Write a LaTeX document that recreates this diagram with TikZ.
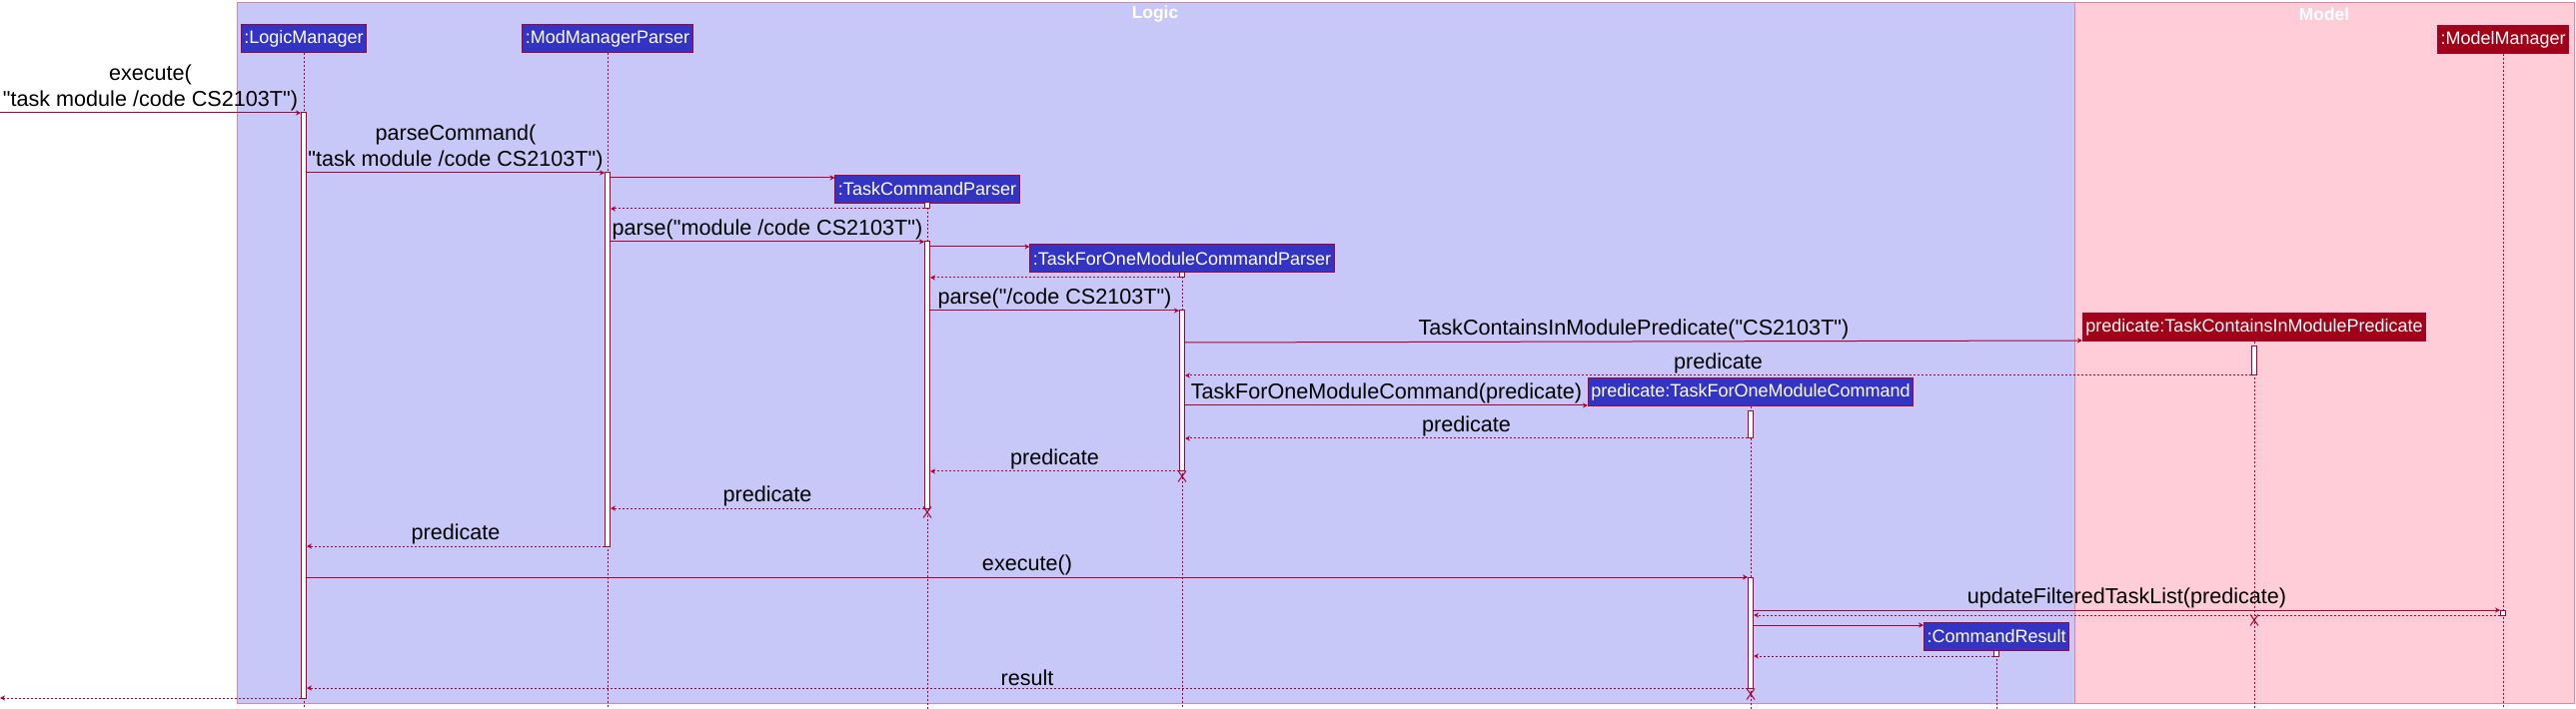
\documentclass[tikz,border=0pt]{standalone}
\usepackage{fontspec}
\setmainfont{Liberation Sans}
\usetikzlibrary{arrows.meta,shapes.misc}

\definecolor{umlred}{RGB}{168,0,54}
\definecolor{logicbg}{RGB}{200,200,248}
\definecolor{modelbg}{RGB}{255,205,216}
\definecolor{logicobj}{RGB}{51,51,196}
\definecolor{modelobj}{RGB}{160,0,24}
\definecolor{frameline}{RGB}{222,130,170}
\newcommand{\dq}{\textquotedbl}

\begin{document}
\begin{tikzpicture}[x=0.5pt,y=-0.5pt,
 obj/.style={draw=umlred,fill=logicobj,text=white,font=\fontsize{9}{10}\selectfont,inner xsep=1.5pt,inner ysep=0pt,minimum height=14pt,line width=0.5pt},
 mobj/.style={obj,fill=modelobj},
 bar/.style={draw=umlred,fill=white,minimum width=2.5pt,inner sep=0pt,line width=0.5pt},
 life/.style={draw=umlred,dash pattern=on 1pt off 1pt,line width=0.4pt},
 msg/.style={draw=umlred,line width=0.5pt,-{Stealth[length=2.5pt,width=2.5pt]}},
 ret/.style={msg,dash pattern=on 1pt off 1pt},
 lbl/.style={above,inner sep=1pt,text=black,font=\fontsize{10.8}{13}\selectfont,align=center},
 kill/.style={cross out,draw=umlred,inner sep=0pt,minimum width=3.5pt,minimum height=5pt,line width=0.5pt},
 frametitle/.style={text=white,font=\fontsize{8.7}{10}\bfseries}]
 \useasboundingbox (0,0) rectangle (2578,710);

 % packages
 \draw[frameline,fill=logicbg] (237,2) rectangle (2076,704);
 \draw[frameline,fill=modelbg] (2076,2) rectangle (2576,704);
 \node[frametitle] (logicT) at (1156,14) {Logic};
 \node[frametitle] (modelT) at (2326,14) {Model};

 % participants
 \node[obj] (lm) at (304,39) {:LogicManager};
 \node[obj] (mmp) at (608,39) {:ModManagerParser};
 \node[obj] (tcp) at (928,189.5) {:TaskCommandParser};
 \node[obj] (tfp) at (1183,259) {:TaskForOneModuleCommandParser};
 \node[obj] (tfc) at (1752,393) {predicate:TaskForOneModuleCommand};
 \node[obj] (cr) at (1998,637) {:CommandResult};
 \node[mobj] (pred) at (2256,328) {predicate:TaskContainsInModulePredicate};
 \node[mobj] (mm) at (2505,39.5) {:ModelManager};

 \coordinate (bot) at (0,710);
 \foreach \p in {lm,mmp,tcp,tfp,tfc,cr,pred,mm}
  \draw[life] (\p.south) -- (\p |- bot);

 % activations
 \node[bar,minimum height=293pt] (lmA) at (lm |- 0,406) {};
 \node[bar,minimum height=187pt] (mmpA) at (mmp |- 0,360) {};
 \node[bar,minimum height=3pt] (tcpN) at (tcp |- 0,206) {};
 \node[bar,minimum height=133.5pt] (tcpA) at (tcp |- 0,375.5) {};
 \node[bar,minimum height=2.5pt] (tfpN) at (tfp |- 0,275.5) {};
 \node[bar,minimum height=80.5pt] (tfpA) at (tfp |- 0,391.5) {};
 \node[bar,minimum height=14.5pt] (predA) at (pred |- 0,361.5) {};
 \node[bar,minimum height=13.5pt] (tfcN) at (tfc |- 0,425.5) {};
 \node[bar,minimum height=55.5pt] (tfcA) at (tfc |- 0,633.5) {};
 \node[bar,minimum height=2.5pt] (mmA) at (mm |- 0,613.5) {};
 \node[bar,minimum height=3pt] (crA) at (cr |- 0,654) {};

 \node[kill] (tcpX) at (tcp |- 0,513) {};
 \node[kill] (tfpX) at (tfp |- 0,477) {};
 \node[kill] (tfcX) at (tfc |- 0,695) {};
 \node[kill] (predX) at (pred |- 0,621) {};

 % messages
 \coordinate (inL) at (0,113);
 \coordinate (outL) at (0,699);
 \draw[msg] (inL) -- node[lbl] {execute(\\\dq task module /code CS2103T\dq)} (lmA.west |- 0,113);
 \draw[msg] (lmA.east |- 0,173) -- node[lbl] {parseCommand(\\\dq task module /code CS2103T\dq)} (mmpA.west |- 0,173);
 \draw[msg] (mmpA.east |- 0,178) -- (tcp.west |- 0,178);
 \draw[ret] (tcpN.west |- 0,209) -- (mmpA.east |- 0,209);
 \draw[msg] (mmpA.east |- 0,242) -- node[lbl] {parse(\dq module /code CS2103T\dq)} (tcpA.west |- 0,242);
 \draw[msg] (tcpA.east |- 0,247) -- (tfp.west |- 0,247);
 \draw[ret] (tfpN.west |- 0,278) -- (tcpA.east |- 0,278);
 \draw[msg] (tcpA.east |- 0,311) -- node[lbl] {parse(\dq/code CS2103T\dq)} (tfpA.west |- 0,311);
 \draw[msg] (tfpA.east |- 0,343) -- node[lbl] {TaskContainsInModulePredicate(\dq CS2103T\dq)} (pred.west |- 0,341);
 \draw[ret] (predA.west |- 0,376) -- node[lbl] {predicate} (tfpA.east |- 0,376);
 \draw[msg] (tfpA.east |- 0,406) -- node[lbl] {TaskForOneModuleCommand(predicate)} (tfc.west |- 0,406);
 \draw[ret] (tfcN.west |- 0,439) -- node[lbl] {predicate} (tfpA.east |- 0,439);
 \draw[ret] (tfpA.west |- 0,472) -- node[lbl] {predicate} (tcpA.east |- 0,472);
 \draw[ret] (tcpA.west |- 0,509) -- node[lbl] {predicate} (mmpA.east |- 0,509);
 \draw[ret] (mmpA.west |- 0,547) -- node[lbl] {predicate} (lmA.east |- 0,547);
 \draw[msg] (lmA.east |- 0,578) -- node[lbl] {execute()} (tfcA.west |- 0,578);
 \draw[msg] (tfcA.east |- 0,611) -- node[lbl] {updateFilteredTaskList(predicate)} (mmA.west |- 0,611);
 \draw[ret] (mmA.west |- 0,616) -- (tfcA.east |- 0,616);
 \draw[msg] (tfcA.east |- 0,626) -- (cr.west |- 0,626);
 \draw[ret] (crA.west |- 0,657) -- (tfcA.east |- 0,657);
 \draw[ret] (tfcA.west |- 0,689) -- node[lbl] {result} (lmA.east |- 0,689);
 \draw[ret] (lmA.west |- 0,699) -- (outL);
\end{tikzpicture}
\end{document}
